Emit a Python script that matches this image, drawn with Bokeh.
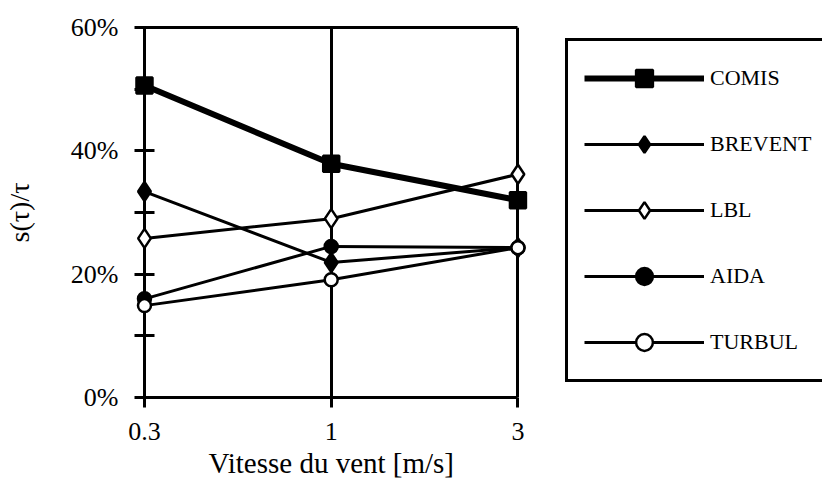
from bokeh.plotting import figure
from bokeh.models import (Range1d, FixedTicker, NumeralTickFormatter, Legend,
                          LegendItem, ColumnDataSource, LinearAxis, Title)
from bokeh.embed import file_html
from bokeh.resources import INLINE

x_labels = ["0.3", "1", "3"]
x_title = "Vitesse du vent [m/s]"
y_title = "s(τ)/τ"
series_names = ["COMIS", "BREVENT", "LBL", "AIDA", "TURBUL"]
comis = [0.506, 0.379, 0.320]
brevent = [0.334, 0.219, 0.243]
lbl = [0.258, 0.290, 0.362]
aida = [0.160, 0.245, 0.243]
turbul = [0.149, 0.191, 0.243]
y_ticks = [0.0, 0.2, 0.4, 0.6]
y_minor = [0.1, 0.3, 0.5]

FONT = "Liberation Serif"
xpos = list(range(len(x_labels)))
x_lo, x_hi = xpos[0], xpos[-1]
y_lo, y_hi = y_ticks[0], y_ticks[-1]

W, H = 822, 486
LEFT, TOP, BOTTOM = 133, 27, 89
px_per_unit = 187.0
pad_left = 10 / px_per_unit
x_end = x_hi + (W - (LEFT + 10 + px_per_unit * (x_hi - x_lo))) / px_per_unit

p = figure(width=W, height=H, output_backend="svg", toolbar_location=None,
           x_range=Range1d(x_lo - pad_left, x_end), y_range=Range1d(y_lo, y_hi),
           min_border_left=LEFT, min_border_right=0, min_border_top=TOP,
           min_border_bottom=BOTTOM, background_fill_color="white",
           border_fill_color="white", x_axis_location=None, y_axis_location=None)
p.outline_line_color = None

# bottom x axis
xax = LinearAxis(bounds=(x_lo, x_hi), ticker=FixedTicker(ticks=xpos),
                 major_label_overrides={i: s for i, s in enumerate(x_labels)})
xax.minor_tick_line_color = None
xax.major_tick_in = 0
xax.major_tick_out = 10
xax.major_label_standoff = 15

# left y axis (its line is replaced by the grid line at the first category)
yax = LinearAxis(ticker=FixedTicker(ticks=y_ticks, minor_ticks=y_minor),
                 formatter=NumeralTickFormatter(format="0%"),
                 axis_label=y_title)
yax.axis_line_color = None
yax.major_tick_in = 20
yax.major_tick_out = 0
yax.minor_tick_in = 20
yax.minor_tick_out = 0
yax.major_label_standoff = 16
yax.axis_label_standoff = 33

for ax in (xax, yax):
    ax.axis_line_width = 3
    ax.major_tick_line_width = 3
    ax.major_tick_line_color = "black"
    ax.minor_tick_line_width = 3
    ax.major_label_text_font = FONT
    ax.major_label_text_font_size = "26px"
    ax.major_label_text_color = "black"
    ax.axis_label_text_font = FONT
    ax.axis_label_text_font_style = "normal"
    ax.axis_label_text_color = "black"
xax.axis_line_color = "black"
yax.minor_tick_line_color = "black"
yax.axis_label_text_font_size = "28px"

p.add_layout(xax, "below")
p.add_layout(yax, "left")

# x-axis title, centred under the data area (not the whole frame)
xt = Title(text=x_title, align="left", offset=74, standoff=4,
           text_font=FONT, text_font_size="29px", text_font_style="normal",
           text_color="black")
p.add_layout(xt, "below")

# top border line as an axis without ticks
top = LinearAxis(bounds=(x_lo, x_hi), ticker=FixedTicker(ticks=[]))
top.axis_line_width = 3
top.axis_line_color = "black"
top.major_tick_line_color = None
top.minor_tick_line_color = None
top.major_label_text_font_size = "0px"
p.add_layout(top, "above")

# vertical lines at each category (left edge, middle, right edge)
p.ygrid.visible = False
p.xgrid.ticker = FixedTicker(ticks=xpos)
p.xgrid.grid_line_color = "black"
p.xgrid.grid_line_width = 3
p.xgrid.grid_line_alpha = 1

styles = [
    dict(data=comis, lw=6, marker="square", size=16, fill="black"),
    dict(data=brevent, lw=3, marker="diamond", size=19, fill="black"),
    dict(data=lbl, lw=3, marker="diamond", size=19, fill="white"),
    dict(data=aida, lw=3, marker="circle", size=13, fill="black"),
    dict(data=turbul, lw=3, marker="circle", size=13, fill="white"),
]

items = []
for name, st in zip(series_names, styles):
    src = ColumnDataSource(dict(x=xpos, y=st["data"]))
    ln = p.line("x", "y", source=src, line_color="black", line_width=st["lw"])
    sc = p.scatter("x", "y", source=src, marker=st["marker"], size=st["size"],
                   fill_color=st["fill"], line_color="black", line_width=2.5)
    items.append(LegendItem(label=name, renderers=[ln, sc]))

legend = Legend(items=items, location=(564 - LEFT, 15), orientation="vertical")
legend.border_line_color = "black"
legend.border_line_width = 3
legend.border_line_alpha = 1
legend.background_fill_color = "white"
legend.background_fill_alpha = 1
legend.padding = 16
legend.margin = 0
legend.spacing = 24
legend.glyph_height = 42
legend.glyph_width = 120
legend.label_standoff = 6
legend.label_width = 110
legend.label_text_font = FONT
legend.label_text_font_size = "22px"
legend.label_text_color = "black"
legend.label_text_baseline = "middle"
p.add_layout(legend, "center")

open("out.html", "w").write(file_html(p, INLINE))
